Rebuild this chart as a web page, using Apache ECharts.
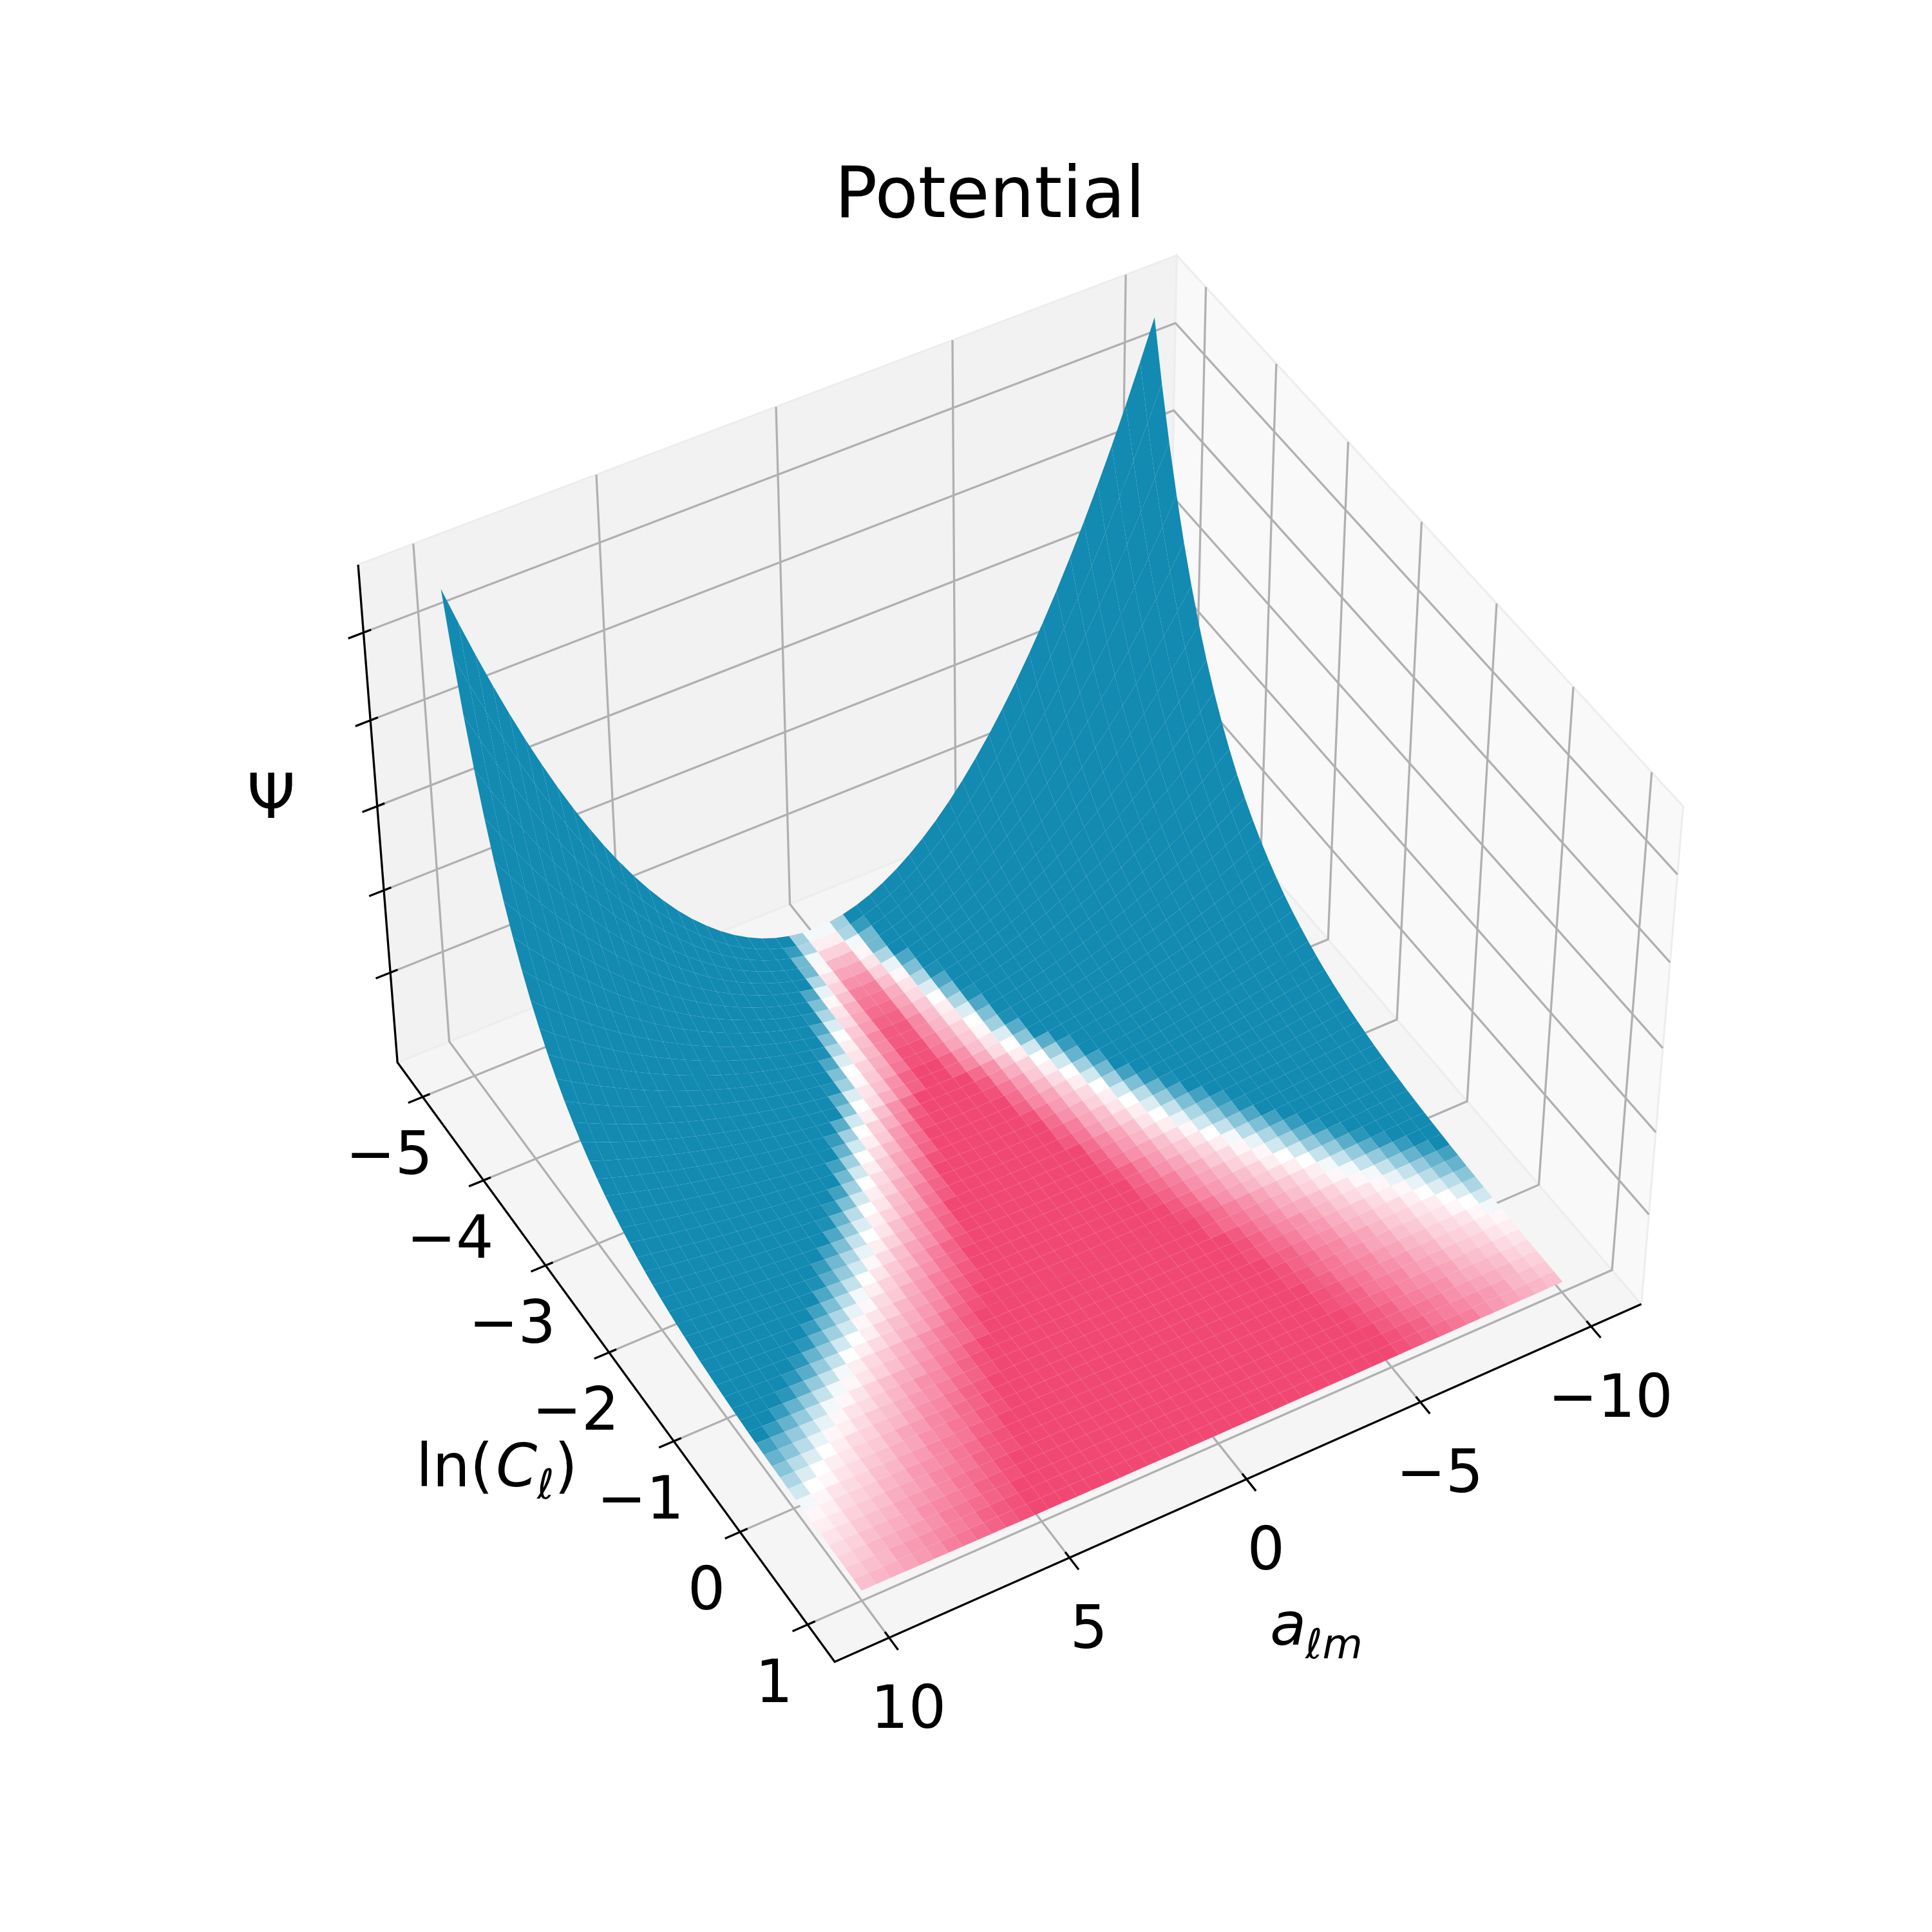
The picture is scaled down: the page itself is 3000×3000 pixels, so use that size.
<!DOCTYPE html>
<html><head><meta charset="utf-8"><style>html,body{margin:0;background:#fff}#c{width:3000px;height:3000px}</style>
<script src="https://cdn.jsdelivr.net/npm/echarts@6/dist/echarts.min.js"></script></head><body><div id="c"></div>
<script>
var aTicks=[-10,-5,0,5,10];
var lnCTicks=[-5,-4,-3,-2,-1,0,1];
var psiTicks=[1000,2000,3000,4000,5000];
var aLim=[-11.49,11.49],lnCLim=[-5.42,1.395],psiLim=[-115,5760];
var aNodes=[-10,-9.6,-9.2,-8.8,-8.4,-8,-7.6,-7.2,-6.8,-6.4,-6,-5.6,-5.2,-4.8,-4.4,-4,-3.6,-3.2,-2.8,-2.4,-2,-1.6,-1.2,-0.8,-0.4,0,0.4,0.8,1.2,1.6,2,2.4,2.8,3.2,3.6,4,4.4,4.8,5.2,5.6,6,6.4,6.8,7.2,7.6,8,8.4,8.8,9.2,9.6,10];
var lnCNodes=[-5,-4.88,-4.76,-4.64,-4.52,-4.4,-4.28,-4.16,-4.04,-3.92,-3.8,-3.68,-3.56,-3.44,-3.32,-3.2,-3.08,-2.96,-2.84,-2.72,-2.6,-2.48,-2.36,-2.24,-2.12,-2,-1.88,-1.76,-1.64,-1.52,-1.4,-1.28,-1.16,-1.04,-0.92,-0.8,-0.68,-0.56,-0.44,-0.32,-0.2,-0.08,0.04,0.16,0.28,0.4,0.52,0.64,0.76,0.88,1];
// surface height, one row per lnC node, columns |a| = 0, 0.4 ... 10 (the surface is symmetric in a)
var psiRows=[
[0,9,36,81,144,226,325,442,578,731,902,1092,1299,1525,1769,2030,2310,2608,2924,3258,3610,3980,4368,4774,5198,5640],
[0,8,32,72,128,200,288,392,512,648,800,968,1153,1353,1569,1801,2049,2313,2593,2889,3201,3530,3874,4234,4610,5002],
[0,7,28,64,114,177,256,348,454,575,710,859,1022,1200,1391,1597,1817,2051,2300,2563,2839,3130,3436,3755,4089,4437],
[0,6,25,57,101,157,227,308,403,510,630,762,907,1064,1234,1417,1612,1819,2040,2273,2518,2776,3047,3330,3626,3935],
[0,6,22,50,89,140,201,274,357,452,558,676,804,944,1094,1256,1429,1614,1809,2016,2234,2463,2703,2954,3216,3490],
[0,5,20,45,79,124,178,243,317,401,495,599,713,837,971,1114,1268,1431,1605,1788,1981,2184,2397,2620,2853,3095],
[0,4,18,40,70,110,158,215,281,356,439,531,633,742,861,988,1124,1269,1423,1586,1757,1937,2126,2324,2530,2745],
[0,4,16,35,62,97,140,191,249,316,390,471,561,658,764,877,997,1126,1262,1406,1558,1718,1886,2061,2244,2435],
[0,3,14,31,55,86,124,169,221,280,346,418,498,584,677,777,885,999,1119,1247,1382,1524,1672,1828,1990,2160],
[0,3,12,28,49,77,110,150,196,248,306,371,441,518,601,690,785,886,993,1106,1226,1351,1483,1621,1765,1915],
[0,3,11,24,43,68,98,133,174,220,272,329,391,459,533,612,696,785,881,981,1087,1199,1316,1438,1566,1699],
[0,2,10,22,39,60,87,118,154,195,241,292,347,407,472,542,617,697,781,870,964,1063,1167,1275,1389,1507],
[0,2,9,19,34,53,77,105,137,173,214,259,308,361,419,481,547,618,693,772,855,943,1035,1131,1232,1336],
[0,2,8,17,30,47,68,93,121,154,190,229,273,320,372,427,485,548,614,685,759,836,918,1003,1092,1185],
[0,2,7,15,27,42,61,82,108,136,168,204,242,284,330,378,431,486,545,607,673,742,814,890,969,1051],
[0,1,6,13,24,37,54,73,95,121,149,180,215,252,292,336,382,431,483,538,597,658,722,789,859,932],
[0,1,5,12,21,33,48,65,85,107,132,160,191,224,259,298,339,382,429,478,529,583,640,700,762,827],
[0,1,5,11,19,29,42,57,75,95,117,142,169,198,230,264,300,339,380,424,469,517,568,621,676,733],
[0,1,4,9,17,26,37,51,67,84,104,126,150,176,204,234,266,301,337,376,416,459,504,551,599,650],
[0,1,4,8,15,23,33,45,59,75,92,112,133,156,181,208,236,267,299,333,369,407,447,488,532,577],
[0,1,3,7,13,20,29,40,52,66,82,99,118,138,160,184,210,237,265,296,327,361,396,433,472,512],
[0,1,3,7,12,18,26,36,46,59,73,88,105,123,142,163,186,210,235,262,290,320,351,384,418,454],
[0,1,3,6,10,16,23,32,41,52,64,78,93,109,126,145,165,186,209,232,258,284,312,341,371,402],
[0,1,2,5,9,14,21,28,37,46,57,69,82,97,112,129,146,165,185,206,228,252,276,302,329,357],
[0,1,2,5,8,13,18,25,32,41,51,61,73,86,99,114,130,146,164,183,203,223,245,268,292,317],
[0,0,2,4,7,11,16,22,29,36,45,54,65,76,88,101,115,130,146,162,180,198,217,238,259,281],
[0,0,2,4,6,10,14,20,26,32,40,48,57,67,78,90,102,115,129,144,159,176,193,211,230,249],
[0,0,1,3,6,9,13,17,23,29,35,43,51,60,69,80,90,102,115,128,141,156,171,187,204,221],
[0,0,1,3,5,8,11,15,20,25,31,38,45,53,61,71,80,91,102,113,125,138,152,166,181,196],
[0,0,1,3,4,7,10,14,18,23,28,34,40,47,54,63,71,80,90,100,111,123,135,147,160,174],
[0,0,1,2,4,6,9,12,16,20,25,30,36,42,48,55,63,71,80,89,99,109,119,130,142,154],
[0,0,1,2,3,5,8,11,14,18,22,26,31,37,43,49,56,63,71,79,87,96,106,116,126,137],
[0,0,1,2,3,5,7,10,12,16,19,23,28,33,38,44,50,56,63,70,78,86,94,103,112,121],
[0,0,1,2,3,4,6,8,11,14,17,21,25,29,34,39,44,50,56,62,69,76,83,91,99,108],
[0,0,1,1,2,4,5,7,10,12,15,18,22,26,30,34,39,44,49,55,61,67,74,81,88,95],
[0,0,1,1,2,3,5,7,9,11,14,16,19,23,27,30,35,39,44,49,54,60,65,72,78,85],
[0,0,0,1,2,3,4,6,8,10,12,15,17,20,24,27,31,35,39,43,48,53,58,63,69,75],
[0,0,0,1,2,3,4,5,7,9,11,13,15,18,21,24,27,31,34,38,43,47,52,56,61,67],
[0,0,0,1,2,2,3,5,6,8,9,11,14,16,19,21,24,27,31,34,38,42,46,50,54,59],
[0,0,0,1,1,2,3,4,5,7,8,10,12,14,16,19,21,24,27,30,33,37,41,44,48,52],
[0,0,0,1,1,2,3,4,5,6,7,9,11,13,15,17,19,21,24,27,30,33,36,39,43,46],
[0,0,0,1,1,2,2,3,4,5,7,8,9,11,13,15,17,19,21,24,26,29,32,35,38,41],
[0,0,0,1,1,1,2,3,4,5,6,7,8,10,11,13,15,17,19,21,23,26,28,31,34,37],
[0,0,0,0,1,1,2,3,3,4,5,6,7,9,10,12,13,15,17,19,21,23,25,27,30,32],
[0,0,0,0,1,1,2,2,3,4,5,6,7,8,9,10,12,13,15,17,18,20,22,24,26,29],
[0,0,0,0,1,1,1,2,3,3,4,5,6,7,8,9,10,12,13,15,16,18,20,22,23,25],
[0,0,0,0,1,1,1,2,2,3,4,4,5,6,7,8,9,10,12,13,14,16,17,19,21,23],
[0,0,0,0,1,1,1,2,2,3,3,4,5,5,6,7,8,9,10,12,13,14,16,17,18,20],
[0,0,0,0,0,1,1,1,2,2,3,3,4,5,6,6,7,8,9,10,11,13,14,15,16,18],
[0,0,0,0,0,1,1,1,2,2,3,3,4,4,5,6,6,7,8,9,10,11,12,13,15,16],
[0,0,0,0,0,1,1,1,1,2,2,3,3,4,4,5,6,6,7,8,9,10,11,12,13,14]];
// facet colour, one row per lnC cell, columns |a| = 0.2, 0.6 ... 9.8: -100 pink, 0 white, 100 blue
var shadeRows=[
[5,40,100,100,100,100,100,100,100,100,100,100,100,100,100,100,100,100,100,100,100,100,100,100,100],
[-10,35,85,100,100,100,100,100,100,100,100,100,100,100,100,100,100,100,100,100,100,100,100,100,100],
[-25,5,60,100,100,100,100,100,100,100,100,100,100,100,100,100,100,100,100,100,100,100,100,100,100],
[-40,-5,60,100,100,100,100,100,100,100,100,100,100,100,100,100,100,100,100,100,100,100,100,100,100],
[-50,-15,35,100,100,100,100,100,100,100,100,100,100,100,100,100,100,100,100,100,100,100,100,100,100],
[-60,-25,10,75,100,100,100,100,100,100,100,100,100,100,100,100,100,100,100,100,100,100,100,100,100],
[-70,-35,-5,55,100,100,100,100,100,100,100,100,100,100,100,100,100,100,100,100,100,100,100,100,100],
[-75,-45,-15,35,95,100,100,100,100,100,100,100,100,100,100,100,100,100,100,100,100,100,100,100,100],
[-80,-50,-20,15,75,100,100,100,100,100,100,100,100,100,100,100,100,100,100,100,100,100,100,100,100],
[-85,-55,-30,0,55,100,100,100,100,100,100,100,100,100,100,100,100,100,100,100,100,100,100,100,100],
[-90,-65,-35,-10,35,95,100,100,100,100,100,100,100,100,100,100,100,100,100,100,100,100,100,100,100],
[-90,-65,-40,-15,15,75,100,100,100,100,100,100,100,100,100,100,100,100,100,100,100,100,100,100,100],
[-95,-70,-45,-25,0,55,100,100,100,100,100,100,100,100,100,100,100,100,100,100,100,100,100,100,100],
[-95,-75,-50,-30,-5,40,95,100,100,100,100,100,100,100,100,100,100,100,100,100,100,100,100,100,100],
[-100,-85,-60,-35,-15,15,70,100,100,100,100,100,100,100,100,100,100,100,100,100,100,100,100,100,100],
[-100,-85,-65,-45,-20,0,50,100,100,100,100,100,100,100,100,100,100,100,100,100,100,100,100,100,100],
[-100,-100,-80,-60,-35,-10,20,70,100,100,100,100,100,100,100,100,100,100,100,100,100,100,100,100,100],
[-100,-100,-90,-65,-45,-25,0,40,85,100,100,100,100,100,100,100,100,100,100,100,100,100,100,100,100],
[-100,-100,-95,-75,-55,-30,-10,20,65,100,100,100,100,100,100,100,100,100,100,100,100,100,100,100,100],
[-100,-100,-100,-80,-60,-40,-20,0,40,80,100,100,100,100,100,100,100,100,100,100,100,100,100,100,100],
[-100,-100,-100,-85,-65,-50,-30,-10,20,60,100,100,100,100,100,100,100,100,100,100,100,100,100,100,100],
[-100,-100,-100,-95,-75,-55,-35,-20,0,40,80,100,100,100,100,100,100,100,100,100,100,100,100,100,100],
[-100,-100,-100,-100,-80,-60,-45,-25,-10,20,55,90,100,100,100,100,100,100,100,100,100,100,100,100,100],
[-100,-100,-100,-100,-85,-70,-50,-35,-15,0,30,65,95,100,100,100,100,100,100,100,100,100,100,100,100],
[-100,-100,-100,-100,-90,-75,-55,-40,-25,-10,15,45,75,100,100,100,100,100,100,100,100,100,100,100,100],
[-100,-100,-100,-100,-100,-80,-65,-50,-35,-15,0,25,55,80,100,100,100,100,100,100,100,100,100,100,100],
[-100,-100,-100,-100,-100,-85,-70,-55,-40,-25,-10,10,35,60,85,100,100,100,100,100,100,100,100,100,100],
[-100,-100,-100,-100,-100,-90,-75,-60,-50,-35,-20,-5,20,45,70,95,100,100,100,100,100,100,100,100,100],
[-100,-100,-100,-100,-100,-95,-85,-70,-55,-40,-30,-15,0,25,50,75,100,100,100,100,100,100,100,100,100],
[-100,-100,-100,-100,-100,-100,-85,-75,-60,-50,-35,-25,-10,5,30,55,80,100,100,100,100,100,100,100,100],
[-100,-100,-100,-100,-100,-100,-90,-80,-70,-55,-45,-30,-20,-5,10,35,60,85,100,100,100,100,100,100,100],
[-100,-100,-100,-100,-100,-100,-95,-85,-75,-60,-50,-40,-25,-15,-5,20,40,65,90,100,100,100,100,100,100],
[-100,-100,-100,-100,-100,-100,-100,-90,-80,-65,-55,-45,-35,-25,-10,0,20,45,65,90,100,100,100,100,100],
[-100,-100,-100,-100,-100,-100,-100,-95,-85,-75,-60,-50,-40,-30,-20,-10,0,25,45,70,90,100,100,100,100],
[-100,-100,-100,-100,-100,-100,-100,-100,-90,-80,-70,-60,-50,-40,-30,-20,-10,5,25,45,70,90,100,100,100],
[-100,-100,-100,-100,-100,-100,-100,-100,-90,-80,-75,-65,-55,-45,-35,-25,-15,-5,5,25,45,65,85,100,100],
[-100,-100,-100,-100,-100,-100,-100,-100,-100,-90,-80,-70,-60,-50,-45,-35,-25,-15,-5,5,25,45,65,85,100],
[-100,-100,-100,-100,-100,-100,-100,-100,-100,-95,-85,-75,-65,-60,-50,-40,-30,-20,-15,-5,10,25,45,65,80],
[-100,-100,-100,-100,-100,-100,-100,-100,-100,-95,-85,-80,-70,-60,-55,-45,-35,-30,-20,-10,-5,10,30,50,65],
[-100,-100,-100,-100,-100,-100,-100,-100,-100,-100,-90,-85,-75,-65,-60,-50,-40,-35,-25,-20,-10,0,15,30,50],
[-100,-100,-100,-100,-100,-100,-100,-100,-100,-100,-95,-85,-80,-70,-65,-55,-50,-40,-30,-25,-15,-10,0,15,35],
[-100,-100,-100,-100,-100,-100,-100,-100,-100,-100,-95,-90,-80,-75,-65,-60,-50,-45,-35,-30,-20,-15,-5,0,20],
[-100,-100,-100,-100,-100,-100,-100,-100,-100,-100,-100,-90,-85,-75,-70,-65,-55,-50,-40,-35,-25,-20,-15,-5,5],
[-100,-100,-100,-100,-100,-100,-100,-100,-100,-100,-100,-95,-90,-80,-75,-65,-60,-55,-45,-40,-30,-25,-20,-10,-5],
[-100,-100,-100,-100,-100,-100,-100,-100,-100,-100,-100,-95,-90,-85,-75,-70,-65,-55,-50,-45,-35,-30,-25,-15,-10],
[-100,-100,-100,-100,-100,-100,-100,-100,-100,-100,-100,-100,-95,-85,-80,-75,-65,-60,-55,-50,-40,-35,-30,-20,-15],
[-100,-100,-100,-100,-100,-100,-100,-100,-100,-100,-100,-100,-95,-90,-85,-75,-70,-65,-60,-50,-45,-40,-35,-25,-20],
[-100,-100,-100,-100,-100,-100,-100,-100,-100,-100,-100,-100,-100,-90,-85,-80,-75,-70,-60,-55,-50,-45,-40,-30,-25],
[-100,-100,-100,-100,-100,-100,-100,-100,-100,-100,-100,-100,-100,-95,-90,-85,-75,-70,-65,-60,-55,-50,-40,-35,-30],
[-100,-100,-100,-100,-100,-100,-100,-100,-100,-100,-100,-100,-100,-95,-90,-85,-80,-75,-70,-60,-55,-50,-45,-40,-35]];

var blue=[18,138,178],pink=[241,72,115];
function colorOf(v){
  var c=v>0?blue:pink,t=Math.abs(v)/100;
  return 'rgb('+[0,1,2].map(function(k){return Math.round(255+(c[k]-255)*t)}).join(',')+')';
}

// same camera as a matplotlib 3d axes: elev 45, azim 60, box aspect 4:4:3
var EL=45.06*Math.PI/180,AZ=59.92*Math.PI/180,DIST=10,SC=12250,OX=1568.6,OY=1460.3,BX=1.19,BZ=0.8925;
var W=[Math.cos(EL)*Math.cos(AZ),Math.cos(EL)*Math.sin(AZ),Math.sin(EL)];
var U=[-Math.sin(AZ),Math.cos(AZ),0];
var V=[W[1]*U[2]-W[2]*U[1],W[2]*U[0]-W[0]*U[2],W[0]*U[1]-W[1]*U[0]];
function pt(a,l,z){
  var t=[(a-aLim[0])/(aLim[1]-aLim[0]),(l-lnCLim[0])/(lnCLim[1]-lnCLim[0]),(z-psiLim[0])/(psiLim[1]-psiLim[0])];
  var q=[(t[0]-.5)*BX-DIST*W[0],(t[1]-.5)*BX-DIST*W[1],(t[2]-.5)*BZ-DIST*W[2]];
  var xc=U[0]*q[0]+U[1]*q[1],yc=V[0]*q[0]+V[1]*q[1]+V[2]*q[2],zc=W[0]*q[0]+W[1]*q[1]+W[2]*q[2];
  return [OX+SC*xc/(-zc),OY-SC*yc/(-zc),zc];
}

var a0=aLim[0],a1=aLim[1],l0=lnCLim[0],l1=lnCLim[1],z0=psiLim[0],z1=psiLim[1];
var panes=[
  {c:[[a1,l0,z0],[a1,l1,z0],[a0,l1,z0],[a0,l0,z0]],f:'#f5f5f5'},
  {c:[[a1,l0,z0],[a0,l0,z0],[a0,l0,z1],[a1,l0,z1]],f:'#f2f2f2'},
  {c:[[a0,l0,z0],[a0,l1,z0],[a0,l1,z1],[a0,l0,z1]],f:'#f9f9f9'}
];
var gridLines=[];
aTicks.forEach(function(a){gridLines.push([[a,l1,z0],[a,l0,z0],[a,l0,z1]])});
lnCTicks.forEach(function(l){gridLines.push([[a1,l,z0],[a0,l,z0],[a0,l,z1]])});
psiTicks.forEach(function(z){gridLines.push([[a1,l0,z],[a0,l0,z],[a0,l1,z]])});

var axisLines=[[[a1,l0,z1],[a1,l0,z0],[a1,l1,z0],[a0,l1,z0]]];
var dxO=.018*(a1-a0),dxI=.009*(a1-a0),dyO=.019*(l1-l0),dyI=.009*(l1-l0);
aTicks.forEach(function(a){axisLines.push([[a,l1-dyI,z0],[a,l1+dyO,z0]])});
lnCTicks.forEach(function(l){axisLines.push([[a1-dxI,l,z0],[a1+dxO,l,z0]])});
psiTicks.forEach(function(z){axisLines.push([[a1-dxI,l0,z],[a1+dxO,l0,z]])});

// facets, far to near
var cells=[];
for(var j=0;j<lnCNodes.length-1;j++){
  for(var i=0;i<aNodes.length-1;i++){
    var c=[[i,j],[i+1,j],[i+1,j+1],[i,j+1]].map(function(q){
      return pt(aNodes[q[0]],lnCNodes[q[1]],psiRows[q[1]][Math.abs(q[0]-25)]);
    });
    cells.push({p:c,d:(c[0][2]+c[1][2]+c[2][2]+c[3][2])/4,v:shadeRows[j][i<25?24-i:i-25]});
  }
}
cells.sort(function(x,y){return x.d-y.d});

var FONT='DejaVu Sans';
var texts=[];
aTicks.forEach(function(a){var p=pt(a,l1,z0);texts.push({x:p[0]+30,y:p[1]+116,t:String(a).replace('-','\u2212'),s:92})});
lnCTicks.forEach(function(l){var p=pt(a1,l,z0);texts.push({x:p[0]-52,y:p[1]+96,t:String(l).replace('-','\u2212'),s:92})});
texts.push({x:1537,y:308,t:'Potential',s:110});
texts.push({x:421,y:1245,t:'\u03a8',s:96});

function custom(name,list,z,item){
  return {
    type:'custom',name:name,coordinateSystem:'cartesian2d',
    data:list.map(function(_,k){return [k,0]}),encode:{x:0,y:1},
    clip:false,silent:true,animation:false,progressive:0,z:z,
    renderItem:function(params,api){return item(list[api.value(0)],api)}
  };
}
function P(api,p){return api.coord([p[0],p[1]])}
function line3d(o,api){return o.map(function(q){return P(api,pt(q[0],q[1],q[2]))})}
function piece(api,x,y,t,s,it){
  var p=P(api,[x,y]);
  return {type:'text',x:p[0],y:p[1],style:{text:t,font:(it?'italic ':'')+s+'px "'+FONT+'"',fill:'#000',align:'left',verticalAlign:'bottom'}};
}

var series=[
  custom('panes',panes,1,function(o,api){
    return {type:'polygon',shape:{points:line3d(o.c,api)},style:{fill:o.f,stroke:'#ededed',lineWidth:3}};
  }),
  custom('grid',gridLines,2,function(o,api){
    return {type:'polyline',shape:{points:line3d(o,api)},style:{fill:null,stroke:'#b0b0b0',lineWidth:3.3}};
  }),
  custom('axes',axisLines,3,function(o,api){
    return {type:'polyline',shape:{points:line3d(o,api)},style:{fill:null,stroke:'#000',lineWidth:3.3}};
  }),
  custom('surface',cells,4,function(o,api){
    return {type:'polygon',shape:{points:o.p.map(function(q){return P(api,q)})},style:{fill:colorOf(o.v)}};
  }),
  custom('text',texts,5,function(o,api){
    var p=P(api,[o.x,o.y]);
    return {type:'text',x:p[0],y:p[1],style:{text:o.t,font:o.s+'px "'+FONT+'"',fill:'#000',align:'center',verticalAlign:'middle'}};
  }),
  custom('axisNames',[0],5,function(o,api){
    return {type:'group',children:[
      piece(api,646,2330,'ln(',92),piece(api,770,2330,'C',92,1),piece(api,834,2342,'\u2113',64,1),piece(api,861,2330,')',92),
      piece(api,1972,2576,'a',92,1),piece(api,2027,2590,'\u2113m',64,1)
    ]};
  })
];

var chart=echarts.init(document.getElementById('c'));
chart.setOption({
  animation:false,backgroundColor:'#fff',
  grid:{left:0,right:0,top:0,bottom:0},
  xAxis:{type:'value',min:0,max:3000,show:false},
  yAxis:{type:'value',min:0,max:3000,inverse:true,show:false},
  series:series
});
</script></body></html>
